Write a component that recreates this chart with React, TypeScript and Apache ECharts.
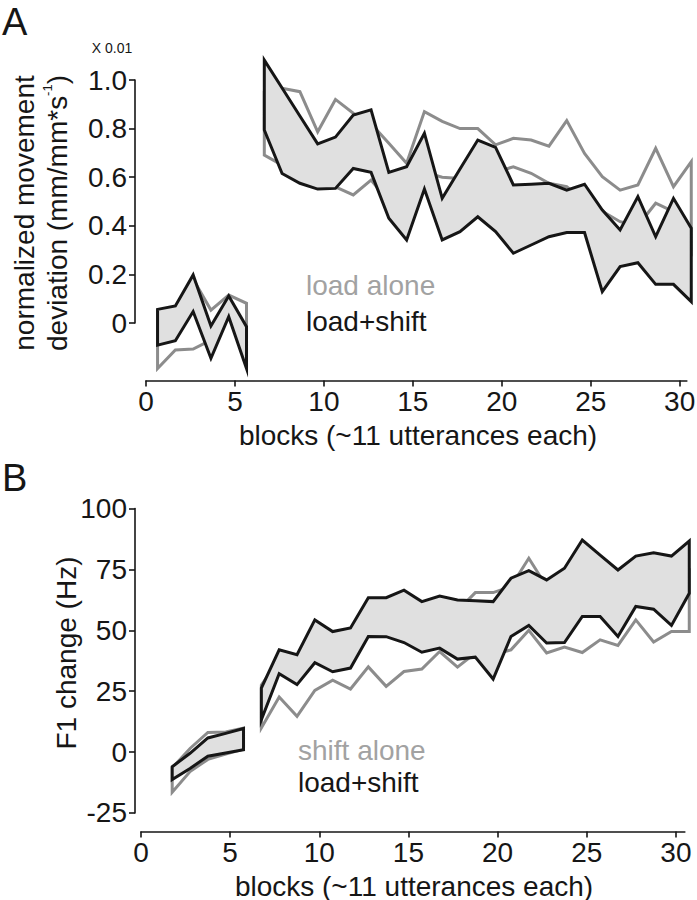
import React, { useEffect, useRef } from 'react';
import * as echarts from 'echarts';

// ---------- data ----------
// Panel A: normalized movement deviation (x 0.01)
const blocksA1 = [0.65, 1.65, 2.65, 3.65, 4.65, 5.65];
const blocksA2 = [6.65, 7.65, 8.65, 9.65, 10.65, 11.65, 12.65, 13.65, 14.65, 15.65, 16.65, 17.65, 18.65,
  19.65, 20.65, 21.65, 22.65, 23.65, 24.65, 25.65, 26.65, 27.65, 28.65, 29.65, 30.65];

const loadShiftUpperA1 = [0.056, 0.070, 0.198, -0.012, 0.111, -0.015];
const loadShiftLowerA1 = [-0.091, -0.073, 0.047, -0.145, 0.026, -0.187];
const loadAloneUpperA1 = [0.05, 0.065, 0.18, 0.053, 0.115, 0.081];
const loadAloneLowerA1 = [-0.187, -0.111, -0.107, -0.07, 0.05, -0.1];

const loadShiftUpperA2 = [1.082, 0.967, 0.852, 0.737, 0.765, 0.856, 0.877, 0.62, 0.643, 0.781, 0.513, 0.634, 0.753,
  0.723, 0.568, 0.571, 0.575, 0.547, 0.571, 0.465, 0.383, 0.52, 0.355, 0.513, 0.39];
const loadShiftLowerA2 = [0.794, 0.615, 0.575, 0.551, 0.554, 0.636, 0.62, 0.431, 0.342, 0.551, 0.342, 0.376, 0.437,
  0.376, 0.287, 0.321, 0.355, 0.372, 0.372, 0.129, 0.232, 0.248, 0.159, 0.159, 0.088];
const loadAloneUpperA2 = [0.95, 0.966, 0.952, 0.787, 0.92, 0.863, 0.82, 0.74, 0.657, 0.87, 0.83, 0.80, 0.80,
  0.733, 0.76, 0.753, 0.728, 0.833, 0.698, 0.602, 0.547, 0.568, 0.719, 0.561, 0.664];
const loadAloneLowerA2 = [0.691, 0.65, 0.62, 0.58, 0.56, 0.527, 0.588, 0.5, 0.5, 0.62, 0.60, 0.595, 0.55,
  0.62, 0.643, 0.616, 0.575, 0.561, 0.5, 0.46, 0.417, 0.40, 0.493, 0.458, 0.3];

// Panel B: F1 change (Hz)
const blocksB1 = [1.75, 2.75, 3.75, 4.75, 5.75];
const blocksB2 = [6.75, 7.75, 8.75, 9.75, 10.75, 11.75, 12.75, 13.75, 14.75, 15.75, 16.75, 17.75, 18.75,
  19.75, 20.75, 21.75, 22.75, 23.75, 24.75, 25.75, 26.75, 27.75, 28.75, 29.75, 30.75];

const loadShiftUpperB1 = [-6, -0.5, 5.8, 7.7, 9.7];
const loadShiftLowerB1 = [-11.3, -6.7, -1.7, -0.4, 1.0];
const shiftAloneUpperB1 = [-6.5, 1.5, 8.1, 8.3, 9.9];
const shiftAloneLowerB1 = [-16.5, -8, -3, -0.8, 1.2];

const loadShiftUpperB2 = [26.3, 42, 40, 54.3, 49.5, 51, 63.4, 63.4, 66.5, 61.8, 64.1, 62.5, 62.2,
  61.8, 71.4, 74.5, 70.7, 75.5, 87.1, 80.9, 74.8, 80.5, 81.9, 80.5, 86.7];
const loadShiftLowerB2 = [13.3, 32.2, 27.7, 36.7, 33, 34.5, 47.5, 47.4, 45, 41, 42.7, 38.2, 39,
  30, 47.5, 52, 44.8, 45, 55.7, 55.7, 47.5, 59.8, 58.7, 52, 65.2];
const shiftAloneUpperB2 = [27.5, 38, 36, 48, 45, 47, 58, 58, 62, 58, 60, 58, 65.5,
  65.5, 68, 79.6, 68, 70, 80, 76, 72, 76, 78, 76, 75];
const shiftAloneLowerB2 = [9.9, 22.6, 14.7, 25.3, 29.5, 25.9, 35, 27, 33.1, 34.1, 41.3, 34.9, 40.7,
  40, 42, 50, 40.7, 43.1, 40.9, 46.1, 43.8, 54.3, 45.2, 49.5, 49.5];

// ticks
const blockTicks = [0, 5, 10, 15, 20, 25, 30];
const yTicksA = [0, 0.2, 0.4, 0.6, 0.8, 1.0];
const yTickLabelsA = ['0', '0.2', '0.4', '0.6', '0.8', '1.0'];
const yTicksB = [-25, 0, 25, 50, 75, 100];
const yTickLabelsB = ['-25', '0', '25', '50', '75', '100'];

// ---------- style ----------
const FONT = '"Liberation Sans", Arial, Helvetica, sans-serif';
const INK = '#161616';
const GRAY_LINE = '#8c8c8c';
const GRAY_TEXT = '#a2a2a2';
const FILL = '#e0e0e0';

type Seg = { x: number[]; up: number[]; lo: number[] };

function bandSeries(axisIdx: number, segs: Seg[], stroke: string, fill: string) {
  return {
    type: 'custom',
    coordinateSystem: 'cartesian2d',
    xAxisIndex: axisIdx,
    yAxisIndex: axisIdx,
    silent: true,
    clip: false,
    data: segs.map((s) => [s.x[0], s.lo[0]]),
    renderItem: (params: any, api: any) => {
      const s = segs[params.dataIndex];
      const pts: number[][] = [];
      for (let i = 0; i < s.x.length; i++) pts.push(api.coord([s.x[i], s.up[i]]));
      for (let i = s.x.length - 1; i >= 0; i--) pts.push(api.coord([s.x[i], s.lo[i]]));
      return {
        type: 'polygon',
        shape: { points: pts },
        style: { fill, stroke, lineWidth: 3, lineJoin: 'miter', miterLimit: 8 },
      };
    },
  };
}

type Panel = {
  x0: number; sx: number; y0: number; sy: number;
  xAxisY: number; xAxisMax: number; yAxisX: number;
  dataX: [number, number]; dataY: [number, number];
  yTicks: number[]; yLabels: string[];
};

const panelA: Panel = {
  x0: 146, sx: 17.79, y0: 323, sy: 243, xAxisY: 380.5, xAxisMax: 30.4, yAxisX: 135,
  dataX: [0, 31], dataY: [-0.3, 1.2], yTicks: yTicksA, yLabels: yTickLabelsA,
};
const panelB: Panel = {
  x0: 141, sx: 17.83, y0: 752.1, sy: 2.435, xAxisY: 831.5, xAxisMax: 30.5, yAxisX: 135,
  dataX: [0, 31], dataY: [-30, 100], yTicks: yTicksB, yLabels: yTickLabelsB,
};

const labelStyle = { fontSize: 28, color: INK, fontFamily: FONT };
const axisLineStyle = { color: INK, width: 1.6 };

function panelParts(p: Panel, base: number) {
  const yPx = (v: number) => p.y0 - v * p.sy;
  const grids = [
    // data grid
    {
      left: p.x0 + p.dataX[0] * p.sx, width: (p.dataX[1] - p.dataX[0]) * p.sx,
      top: yPx(p.dataY[1]), height: (p.dataY[1] - p.dataY[0]) * p.sy, outerBoundsMode: 'none',
    },
    // x axis grid
    { left: p.x0, width: p.xAxisMax * p.sx, top: p.xAxisY - 10, height: 10, outerBoundsMode: 'none' },
    // y axis grid
    {
      left: p.yAxisX, width: 10, top: yPx(p.yTicks[p.yTicks.length - 1]),
      height: yPx(p.yTicks[0]) - yPx(p.yTicks[p.yTicks.length - 1]), outerBoundsMode: 'none',
    },
  ];
  const labelFor = (v: number) => {
    let best = 0;
    for (let i = 0; i < p.yTicks.length; i++) if (Math.abs(p.yTicks[i] - v) < Math.abs(p.yTicks[best] - v)) best = i;
    return p.yLabels[best];
  };
  const xAxes = [
    { type: 'value', gridIndex: base, min: p.dataX[0], max: p.dataX[1], show: false },
    {
      type: 'value', gridIndex: base + 1, min: 0, max: p.xAxisMax, position: 'bottom',
      axisLine: { show: true, onZero: false, lineStyle: axisLineStyle },
      axisTick: { show: true, length: 6, lineStyle: axisLineStyle, customValues: blockTicks },
      axisLabel: { show: true, customValues: blockTicks, margin: 7, ...labelStyle },
      splitLine: { show: false },
    },
    { type: 'value', gridIndex: base + 2, min: 0, max: 1, show: false },
  ];
  const yAxes = [
    { type: 'value', gridIndex: base, min: p.dataY[0], max: p.dataY[1], show: false },
    { type: 'value', gridIndex: base + 1, min: 0, max: 1, show: false },
    {
      type: 'value', gridIndex: base + 2, min: p.yTicks[0], max: p.yTicks[p.yTicks.length - 1], position: 'left',
      axisLine: { show: true, onZero: false, lineStyle: axisLineStyle },
      axisTick: { show: true, length: 6, lineStyle: axisLineStyle, customValues: p.yTicks },
      axisLabel: { show: true, customValues: p.yTicks, margin: 8, formatter: (v: number) => labelFor(v), ...labelStyle },
      splitLine: { show: false },
    },
  ];
  return { grids, xAxes, yAxes };
}

function buildOption() {
  const a = panelParts(panelA, 0);
  const b = panelParts(panelB, 3);

  const segsA_alone: Seg[] = [
    { x: blocksA1, up: loadAloneUpperA1, lo: loadAloneLowerA1 },
    { x: blocksA2, up: loadAloneUpperA2, lo: loadAloneLowerA2 },
  ];
  const segsA_both: Seg[] = [
    { x: blocksA1, up: loadShiftUpperA1, lo: loadShiftLowerA1 },
    { x: blocksA2, up: loadShiftUpperA2, lo: loadShiftLowerA2 },
  ];
  const segsB_alone: Seg[] = [
    { x: blocksB1, up: shiftAloneUpperB1, lo: shiftAloneLowerB1 },
    { x: blocksB2, up: shiftAloneUpperB2, lo: shiftAloneLowerB2 },
  ];
  const segsB_both: Seg[] = [
    { x: blocksB1, up: loadShiftUpperB1, lo: loadShiftLowerB1 },
    { x: blocksB2, up: loadShiftUpperB2, lo: loadShiftLowerB2 },
  ];

  const txt = (x: number, y: number, text: string, opts: any = {}) => ({
    type: 'text', x, y, silent: true, rotation: opts.rotation || 0,
    style: {
      text, fill: opts.fill || INK, fontSize: opts.fontSize || 28, fontFamily: FONT,
      align: opts.align || 'center', verticalAlign: 'middle', lineHeight: opts.lineHeight,
      rich: opts.rich,
    },
  });

  return {
    animation: false,
    backgroundColor: '#ffffff',
    grid: [...a.grids, ...b.grids],
    xAxis: [...a.xAxes, ...b.xAxes],
    yAxis: [...a.yAxes, ...b.yAxes],
    series: [
      bandSeries(0, segsA_alone, GRAY_LINE, 'none'),
      bandSeries(0, segsA_both, INK, FILL),
      bandSeries(3, segsB_alone, GRAY_LINE, 'none'),
      bandSeries(3, segsB_both, INK, FILL),
    ],
    graphic: [
      txt(2, 22, 'A', { fontSize: 38, align: 'left' }),
      txt(2, 478, 'B', { fontSize: 38, align: 'left' }),
      txt(112, 48, 'X 0.01', { fontSize: 14 }),
      txt(41, 213, 'normalized movement\ndeviation (mm/mm*s{sup|-1})', {
        rotation: Math.PI / 2, lineHeight: 33,
        rich: { sup: { fontSize: 13, fontFamily: FONT, fill: INK, verticalAlign: 'top', lineHeight: 16 } },
      }),
      txt(66, 653, 'F1 change (Hz)', { rotation: Math.PI / 2 }),
      txt(418, 435, 'blocks (~11 utterances each)'),
      txt(414, 886, 'blocks (~11 utterances each)'),
      txt(306, 285, 'load alone', { align: 'left', fill: GRAY_TEXT }),
      txt(306, 321, 'load+shift', { align: 'left' }),
      txt(298, 750, 'shift alone', { align: 'left', fill: GRAY_TEXT }),
      txt(298, 782, 'load+shift', { align: 'left' }),
    ],
  };
}

export default function App() {
  const ref = useRef<HTMLDivElement>(null);
  useEffect(() => {
    if (!ref.current) return;
    const chart = echarts.init(ref.current, undefined, { renderer: 'svg' });
    chart.setOption(buildOption() as any);
    return () => chart.dispose();
  }, []);
  return (
    <div
      ref={ref}
      style={{ position: 'absolute', left: 0, top: 0, width: 697, height: 900, background: '#ffffff' }}
    />
  );
}
